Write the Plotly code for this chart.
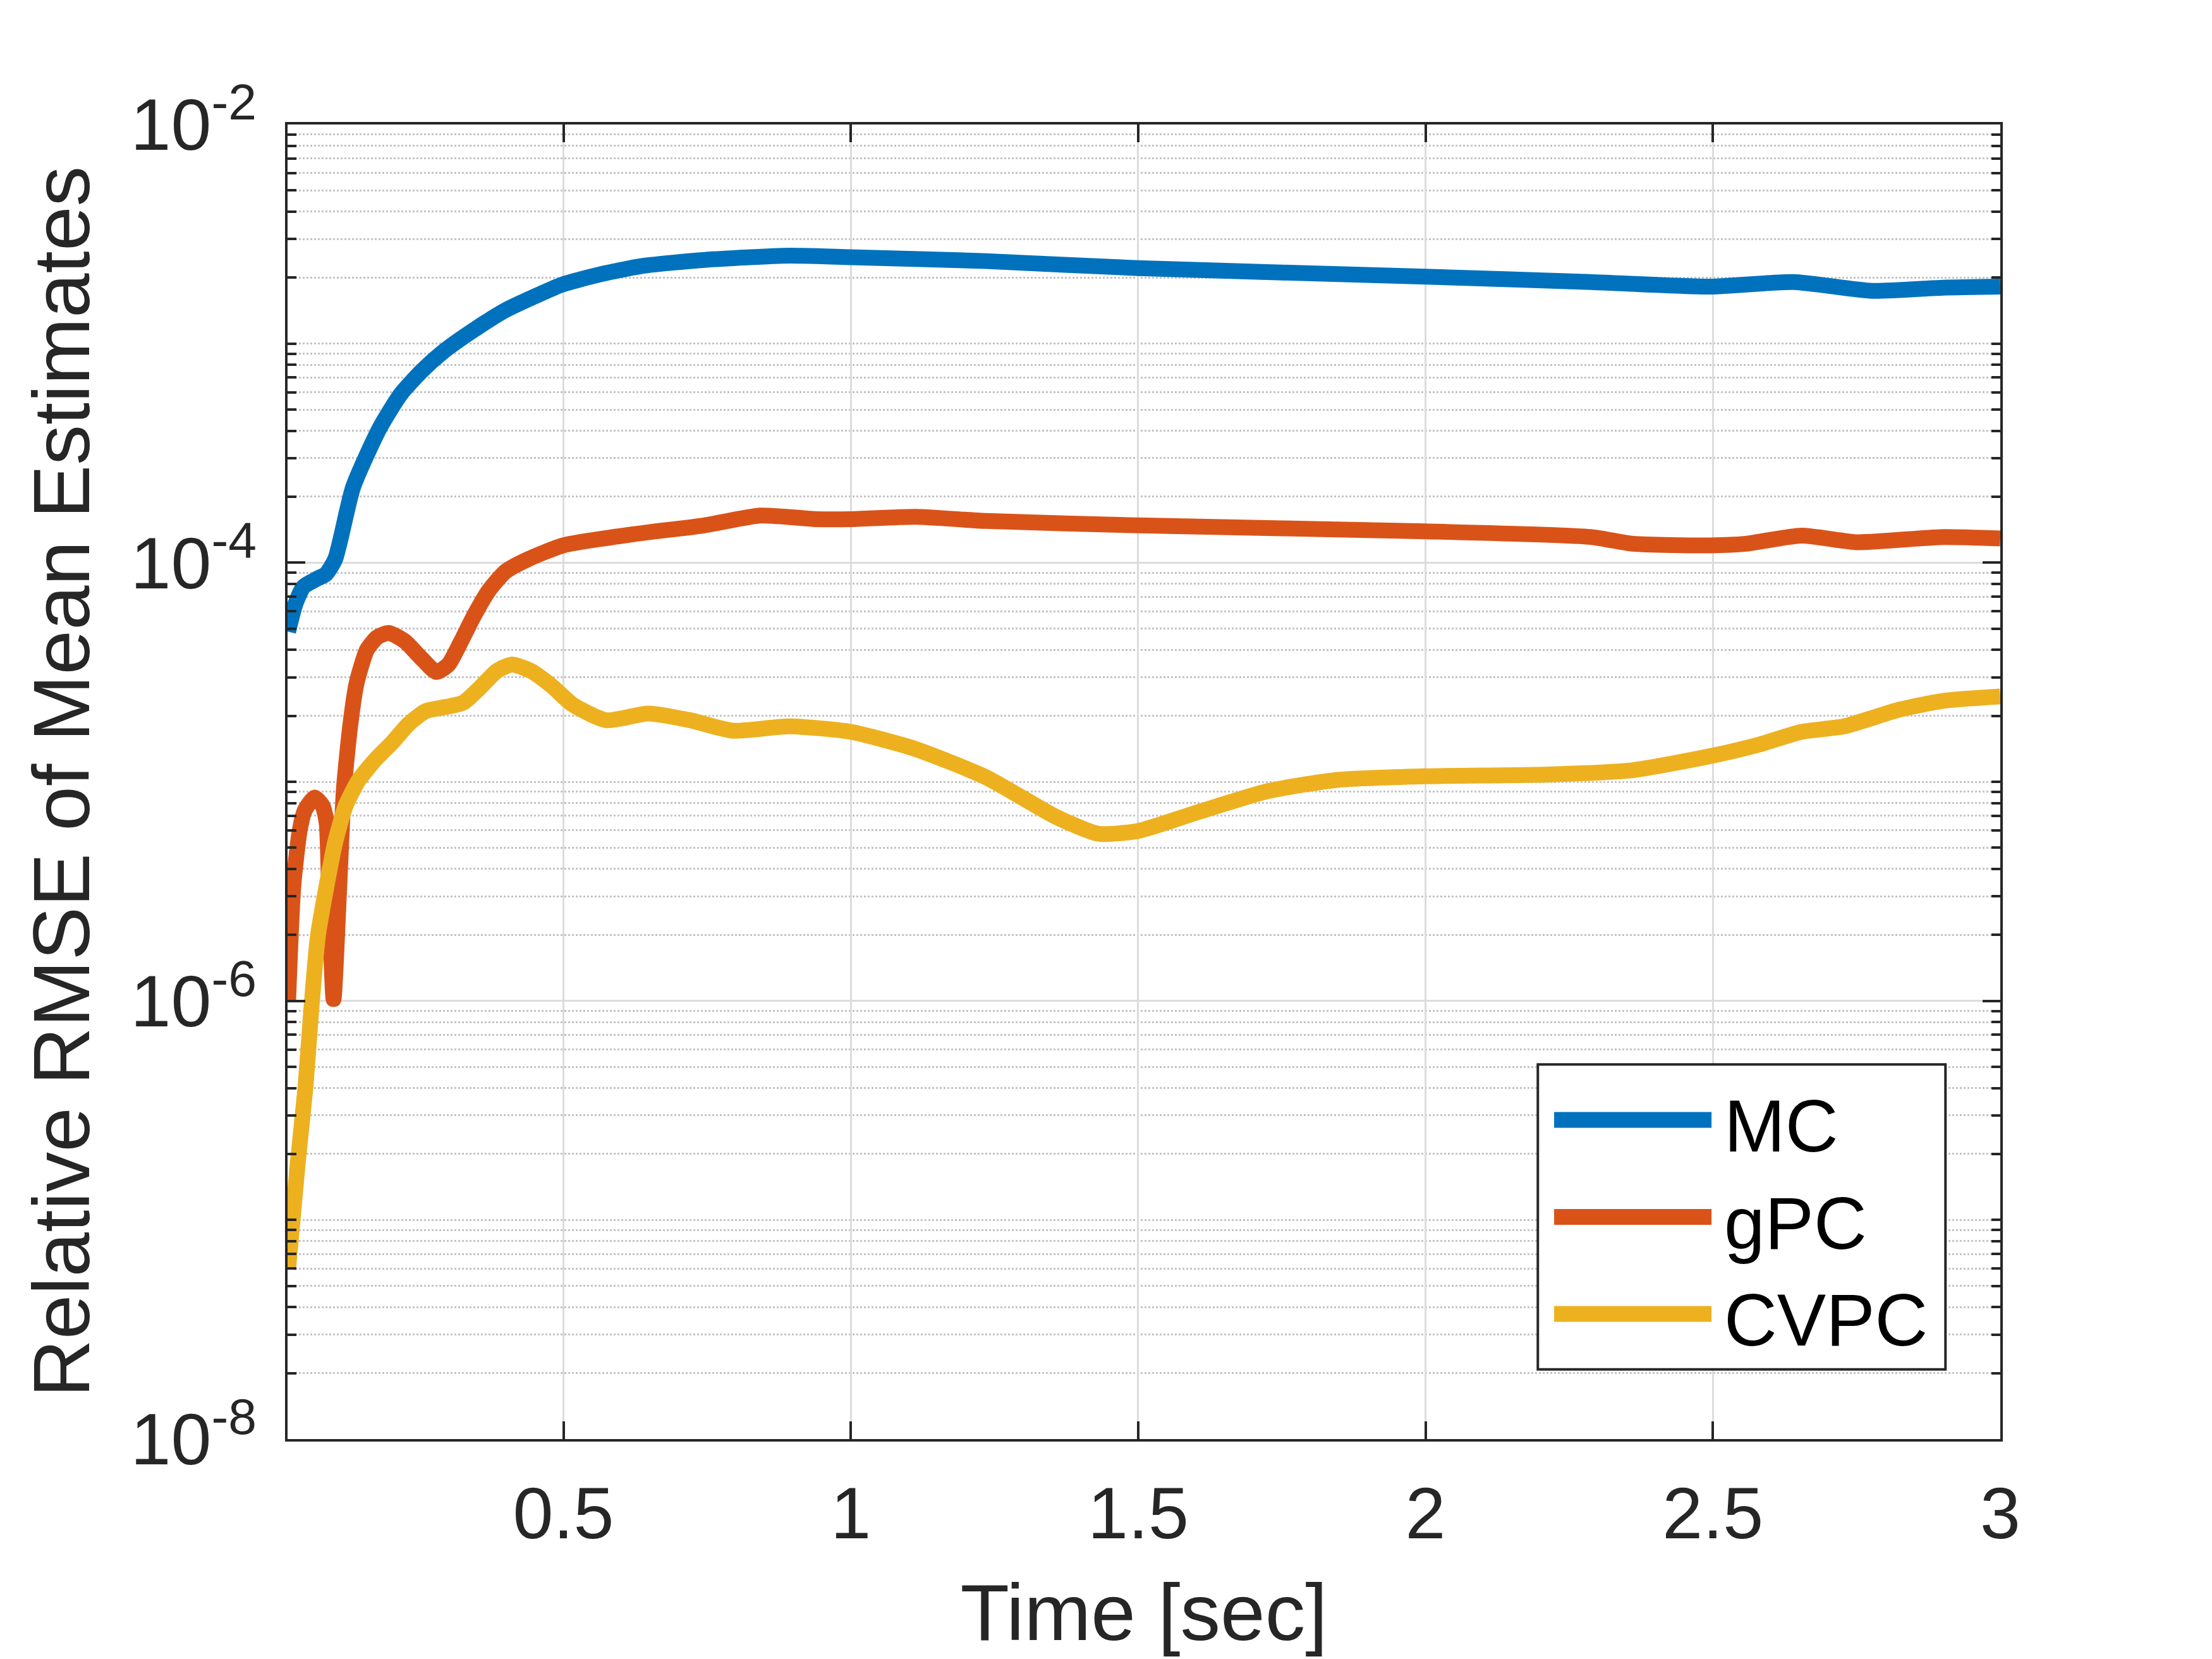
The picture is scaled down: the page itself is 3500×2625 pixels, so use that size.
import plotly.graph_objects as go

# values (time in sec, relative RMSE)
t_mc = [0.021, 0.034, 0.048, 0.070, 0.087, 0.103, 0.134, 0.180, 0.2165, 0.253, 0.2895, 0.344,
        0.399, 0.454, 0.498, 0.5636, 0.637, 0.746, 0.892, 1.0, 1.235, 1.50, 2.0, 2.287, 2.496,
        2.64, 2.777, 2.90, 3.0]
rmse_mc = [4.84e-5, 6.52e-5, 7.78e-5, 8.41e-5, 8.89e-5, 1.04e-4, 2.21e-4, 4.10e-4, 5.86e-4, 7.48e-4,
           9.12e-4, 1.153e-3, 1.42e-3, 1.66e-3, 1.86e-3, 2.07e-3, 2.26e-3, 2.41e-3, 2.52e-3, 2.48e-3,
           2.38e-3, 2.21e-3, 2.02e-3, 1.91e-3, 1.82e-3, 1.91e-3, 1.74e-3, 1.80e-3, 1.82e-3]

t_gpc = [0.021, 0.030, 0.041, 0.050, 0.067, 0.081, 0.088, 0.092, 0.100, 0.110, 0.118, 0.129,
         0.140, 0.158, 0.176, 0.196, 0.224, 0.253, 0.279, 0.300, 0.322, 0.344, 0.370, 0.399,
         0.436, 0.50, 0.623, 0.745, 0.843, 0.941, 1.0, 1.113, 1.235, 1.50, 2.0, 2.287, 2.361,
         2.496, 2.557, 2.654, 2.752, 2.90, 3.0]
rmse_gpc = [1.0e-6, 3.33e-6, 5.96e-6, 7.41e-6, 8.47e-6, 7.76e-6, 6.49e-6, 3.33e-6, 1.02e-6, 3.33e-6,
            9.25e-6, 1.80e-5, 2.81e-5, 4.0e-5, 4.57e-5, 4.78e-5, 4.38e-5, 3.66e-5, 3.17e-5, 3.43e-5,
            4.38e-5, 5.70e-5, 7.45e-5, 9.10e-5, 1.03e-4, 1.20e-4, 1.35e-4, 1.48e-4, 1.64e-4, 1.58e-4,
            1.58e-4, 1.62e-4, 1.55e-4, 1.48e-4, 1.39e-4, 1.31e-4, 1.22e-4, 1.20e-4, 1.22e-4, 1.33e-4,
            1.24e-4, 1.31e-4, 1.29e-4]

t_cvpc = [0.021, 0.038, 0.0513, 0.061, 0.0727, 0.0877, 0.103, 0.121, 0.143, 0.1725, 0.202, 0.231,
          0.260, 0.297, 0.326, 0.355, 0.3845, 0.410, 0.443, 0.4795, 0.516, 0.575, 0.648, 0.72,
          0.795, 0.893, 1.0, 1.113, 1.235, 1.357, 1.431, 1.50, 1.602, 1.725, 1.847, 2.0, 2.214,
          2.361, 2.496, 2.581, 2.654, 2.728, 2.826, 2.90, 3.0]
rmse_cvpc = [5.96e-8, 1.85e-7, 4.07e-7, 8.95e-7, 1.97e-6, 3.33e-6, 5.31e-6, 7.76e-6, 1.01e-5, 1.26e-5,
             1.51e-5, 1.84e-5, 2.10e-5, 2.20e-5, 2.30e-5, 2.69e-5, 3.21e-5, 3.43e-5, 3.21e-5, 2.74e-5,
             2.25e-5, 1.91e-5, 2.05e-5, 1.91e-5, 1.71e-5, 1.79e-5, 1.69e-5, 1.41e-5, 1.05e-5, 6.92e-6,
             5.79e-6, 5.97e-6, 7.24e-6, 9.06e-6, 1.02e-5, 1.06e-5, 1.08e-5, 1.13e-5, 1.31e-5, 1.48e-5,
             1.69e-5, 1.79e-5, 2.14e-5, 2.34e-5, 2.45e-5]

x_ticks = [0.5, 1, 1.5, 2, 2.5, 3]
x_ticklabels = ["0.5", "1", "1.5", "2", "2.5", "3"]
y_ticks = [1e-8, 1e-6, 1e-4, 1e-2]
y_ticklabels = ["10<sup>-8</sup>", "10<sup>-6</sup>", "10<sup>-4</sup>", "10<sup>-2</sup>"]

FONT = "Liberation Sans, Arial, sans-serif"
INK = "#262626"
LW = 25

series = [
    ("MC", t_mc, rmse_mc, "#0072BD"),
    ("gPC", t_gpc, rmse_gpc, "#D95319"),
    ("CVPC", t_cvpc, rmse_cvpc, "#EDB120"),
]

fig = go.Figure()
for name, t, r, color in series:
    fig.add_trace(go.Scatter(x=t, y=r, name=name, mode="lines", showlegend=False,
                             line=dict(color=color, width=LW, shape="spline", smoothing=0.6)))

# legend drawn by hand (MATLAB style box with long line samples)
fig.add_shape(type="rect", xref="paper", yref="paper", x0=0.730, x1=0.968, y0=0.053, y1=0.285,
              line=dict(color=INK, width=4), fillcolor="white", layer="above")
for i, (name, t, r, color) in enumerate(series):
    yy = 0.2428 - i * 0.0738
    fig.add_shape(type="line", xref="paper", yref="paper", x0=0.7395, x1=0.8314, y0=yy, y1=yy,
                  line=dict(color=color, width=LW), layer="above")
    fig.add_annotation(xref="paper", yref="paper", x=0.838, y=yy - 0.005, text=name,
                       showarrow=False, xanchor="left", yanchor="middle",
                       font=dict(family=FONT, size=116, color="black"))

# minor ticks/grid at every k*10^n, skipping the labelled decades
minor_vals = [k * 10.0 ** e for e in range(-8, -2) for k in range(1, 10) if not (k == 1 and e % 2 == 0)]
minor_vals += [k * 1e-3 for k in range(2, 10)]

fig.update_xaxes(
    range=[0.02, 3], tickvals=x_ticks, ticktext=x_ticklabels,
    ticks="inside", ticklen=28, tickwidth=4, tickcolor=INK,
    showline=True, linecolor=INK, linewidth=4, mirror="ticks",
    showgrid=True, gridcolor="#dcdcdc", gridwidth=3, zeroline=False,
    tickfont=dict(family=FONT, size=115, color=INK), ticklabelstandoff=15,
    title=dict(text="Time [sec]", font=dict(family=FONT, size=127, color=INK), standoff=50),
)
fig.update_yaxes(
    type="log", range=[-8, -2], tickvals=y_ticks, ticktext=y_ticklabels,
    ticks="inside", ticklen=28, tickwidth=4, tickcolor=INK,
    showline=True, linecolor=INK, linewidth=4, mirror="ticks",
    showgrid=True, gridcolor="#dcdcdc", gridwidth=3, zeroline=False,
    tickfont=dict(family=FONT, size=115, color=INK), ticklabelstandoff=22,
    title=dict(text="Relative RMSE of Mean Estimates", font=dict(family=FONT, size=127, color=INK), standoff=23),
    minor=dict(tickmode="array", tickvals=minor_vals, ticks="inside", ticklen=14, tickwidth=4,
               tickcolor=INK, showgrid=True, gridcolor="#c4c4c4", gridwidth=3, griddash="dot"),
)

fig.update_layout(
    width=3500, height=2625,
    margin=dict(l=447, r=343, t=189, b=356),
    paper_bgcolor="white", plot_bgcolor="white",
    font=dict(family=FONT, color=INK),
)

fig.write_html("out.html")
